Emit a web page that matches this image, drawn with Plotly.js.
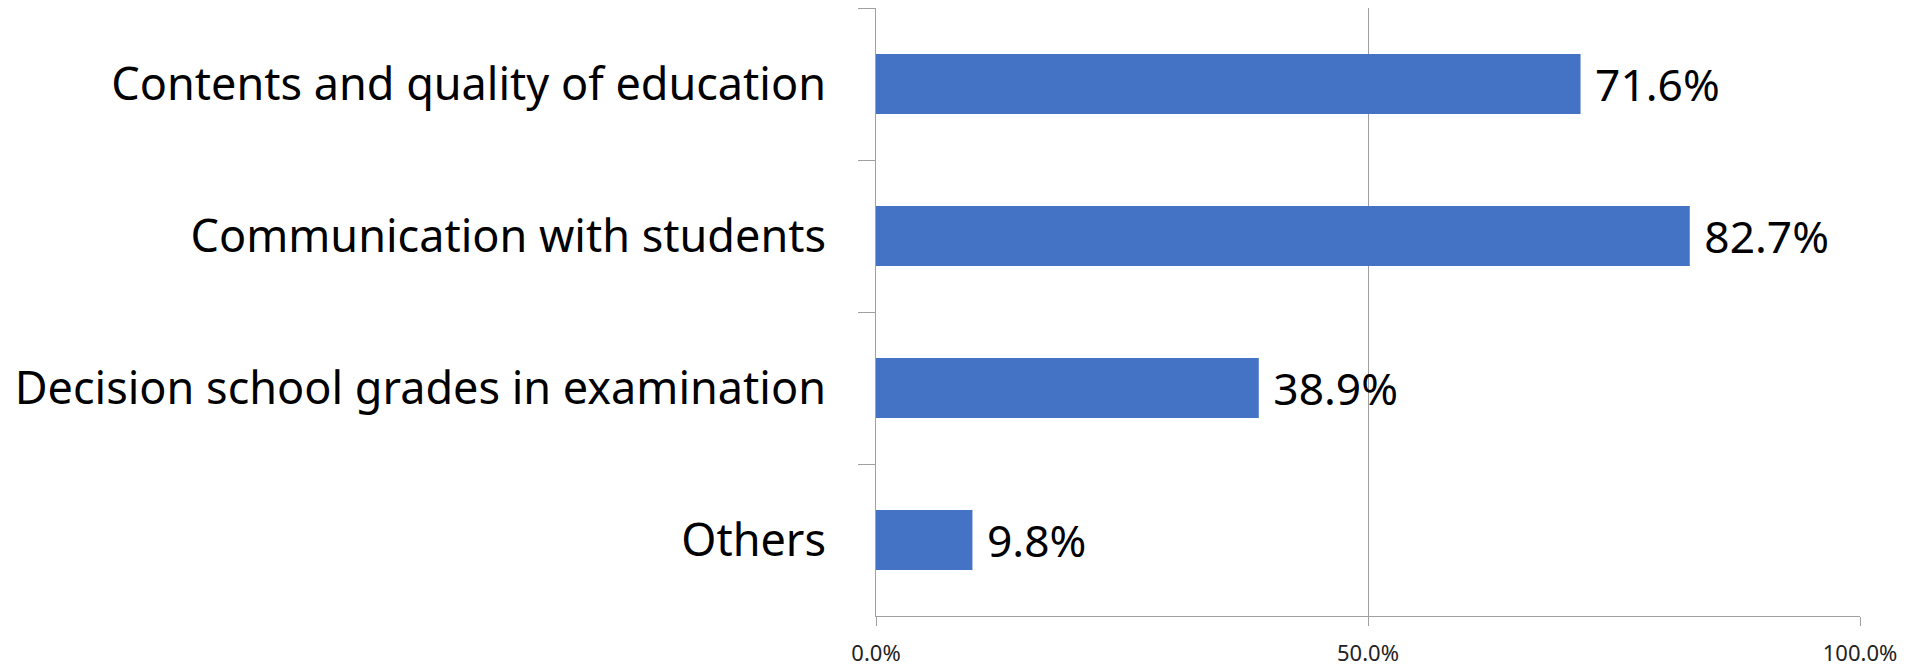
<!DOCTYPE html>
<html>
<head>
<meta charset="utf-8">
<script src="https://cdn.plot.ly/plotly-3.0.1.min.js"></script>
<style>html,body{margin:0;padding:0;background:#fff;}#chart{width:1913px;height:669px;}</style>
</head>
<body>
<div id="chart"></div>
<script>
const categories = [
  "Contents and quality of education",
  "Communication with students",
  "Decision school grades in examination",
  "Others"
];
const values = [71.6, 82.7, 38.9, 9.8];
const xTickValues = [0, 50, 100];

const FONT = "Noto Sans, Open Sans, sans-serif";

const trace = {
  type: "bar",
  orientation: "h",
  y: categories,
  x: values,
  marker: {color: "#4472C4", line: {width: 0}},
  text: values.map(v => "\u00a0" + v.toFixed(1) + "%"),
  textposition: "outside",
  textfont: {family: FONT, size: 45, color: "#000000"},
  cliponaxis: false,
  hoverinfo: "skip"
};

const layout = {
  width: 1913,
  height: 669,
  margin: {l: 876, r: 53, t: 8, b: 53, pad: 0},
  paper_bgcolor: "#ffffff",
  plot_bgcolor: "#ffffff",
  showlegend: false,
  bargap: 0.605,
  font: {family: FONT, color: "#000000"},
  xaxis: {
    range: [0, 100],
    tickvals: xTickValues,
    ticktext: xTickValues.map(v => v.toFixed(1) + "%"),
    showgrid: true,
    gridcolor: "#a0a0a0",
    gridwidth: 1,
    zeroline: false,
    showline: true,
    linecolor: "#a0a0a0",
    linewidth: 1,
    ticks: "outside",
    ticklen: 9,
    tickcolor: "#a0a0a0",
    tickfont: {family: FONT, size: 22, color: "#222222"},
    ticklabelstandoff: 9,
    fixedrange: true
  },
  yaxis: {
    type: "category",
    categoryorder: "array",
    categoryarray: categories,
    autorange: "reversed",
    showgrid: false,
    zeroline: false,
    showline: true,
    linecolor: "#a0a0a0",
    linewidth: 1,
    ticks: "outside",
    tickson: "boundaries",
    ticklen: 17,
    tickcolor: "#a0a0a0",
    tickfont: {family: FONT, size: 45, color: "#000000"},
    ticklabelstandoff: 40,
    fixedrange: true
  }
};

Plotly.newPlot("chart", [trace], layout, {staticPlot: true, displayModeBar: false});
</script>
</body>
</html>
